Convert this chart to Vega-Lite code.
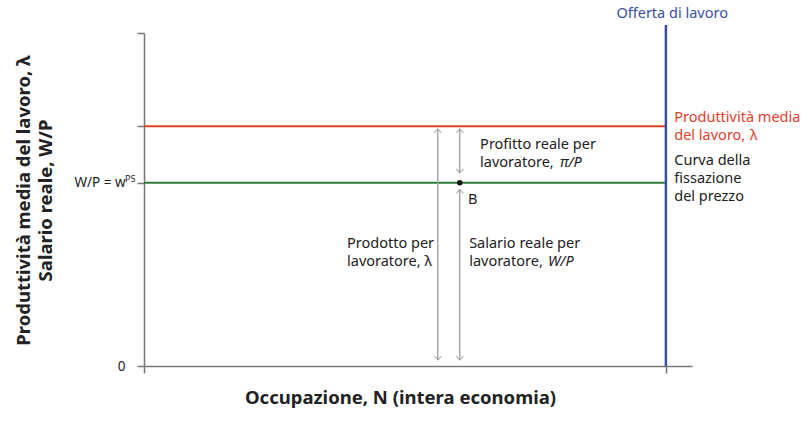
{
  "$schema": "https://vega.github.io/schema/vega-lite/v6.json",
  "width": 548,
  "height": 333,
  "autosize": "none",
  "padding": {"left": 144, "top": 33, "right": 118, "bottom": 55},
  "background": "white",
  "config": {
    "view": {"stroke": null},
    "font": "Noto Sans",
    "axis": {"grid": false, "domainColor": "#777", "tickColor": "#777", "domainWidth": 1.5, "tickWidth": 1.5, "tickSize": 7}
  },
  "datasets": {
    "hlines": [
      {"name": "lambda", "x": 0, "x2": 100, "y": 72},
      {"name": "ps", "x": 0, "x2": 100, "y": 55}
    ],
    "supply": [{"x": 100, "y": 0, "y2": 102.4}],
    "shafts": [
      {"x": 56.3, "y": 1.8, "y2": 71.2},
      {"x": 60.5, "y": 58, "y2": 71.2},
      {"x": 60.5, "y": 1.8, "y2": 53}
    ],
    "heads": [
      {"x": 56.3, "y": 71.2, "dir": "up"},
      {"x": 60.5, "y": 71.2, "dir": "up"},
      {"x": 60.5, "y": 53, "dir": "up"},
      {"x": 56.3, "y": 1.8, "dir": "down"},
      {"x": 60.5, "y": 58, "dir": "down"},
      {"x": 60.5, "y": 1.8, "dir": "down"}
    ],
    "pointB": [{"x": 60.5, "y": 55, "label": "B"}],
    "blackText": [
      {"x": 64.4, "y": 66.4, "text": "Profitto reale per"},
      {"x": 64.4, "y": 61.0, "text": "lavoratore,"},
      {"x": 38.9, "y": 36.6, "text": "Prodotto per"},
      {"x": 38.9, "y": 31.2, "text": "lavoratore, λ"},
      {"x": 62.3, "y": 36.6, "text": "Salario reale per"},
      {"x": 62.3, "y": 31.2, "text": "lavoratore,"},
      {"x": 62.1, "y": 49.8, "text": "B"},
      {"x": 101.6, "y": 61.6, "text": "Curva della"},
      {"x": 101.6, "y": 56.2, "text": "fissazione"},
      {"x": 101.6, "y": 50.8, "text": "del prezzo"}
    ],
    "italicText": [
      {"x": 79.7, "y": 61.0, "text": "π/P"},
      {"x": 77.4, "y": 31.2, "text": "W/P"}
    ],
    "redText": [
      {"x": 101.6, "y": 74.5, "text": "Produttività media", "style": "normal"},
      {"x": 101.6, "y": 69.1, "text": "del lavoro,", "style": "normal"},
      {"x": 116.1, "y": 69.1, "text": "λ", "style": "italic"}
    ],
    "blueText": [{"x": 101.2, "y": 105.7, "text": "Offerta di lavoro"}],
    "sup": [{"x": 0, "y": 55, "text": "PS"}]
  },
  "layer": [
    {
      "data": {"name": "hlines"},
      "mark": {"type": "rule", "strokeWidth": 2},
      "encoding": {
        "x": {"field": "x", "type": "quantitative", "scale": {"domain": [0, 105], "nice": false},
          "axis": {"values": [0, 100], "labels": false, "title": "Occupazione, N (intera economia)",
            "titleFont": "Noto Sans", "titleFontSize": 18.5, "titleFontWeight": "bold", "titleColor": "#222",
            "titleX": 256, "titleY": 31, "titleBaseline": "middle", "titleAnchor": "middle"}},
        "x2": {"field": "x2"},
        "y": {"field": "y", "type": "quantitative", "scale": {"domain": [0, 100], "nice": false},
          "axis": {"values": [0, 55, 72, 100], "labelExpr": "datum.value == 0 ? '0' : datum.value == 55 ? 'W/P = w' : ''",
            "labelFontSize": 13.5, "labelColor": "#222", "labelPadding": 12, "labelFont": "Noto Sans",
            "title": ["Produttività media del lavoro, λ", "Salario reale, W/P"],
            "titleFont": "Noto Sans", "titleFontSize": 18.5, "titleFontWeight": "bold", "titleColor": "#222",
            "titleX": -121, "titleY": 167, "titleAngle": -90, "titleAlign": "center", "titleBaseline": "middle", "titleLineHeight": 22}},
        "color": {"field": "name", "type": "nominal", "scale": {"domain": ["lambda", "ps"], "range": ["#e2402b", "#2b7a3b"]}, "legend": null}
      }
    },
    {
      "data": {"name": "supply"},
      "mark": {"type": "rule", "strokeWidth": 2.5, "color": "#3a4fa0"},
      "encoding": {
        "x": {"field": "x", "type": "quantitative"},
        "y": {"field": "y", "type": "quantitative"},
        "y2": {"field": "y2"}
      }
    },
    {
      "data": {"name": "shafts"},
      "mark": {"type": "rule", "strokeWidth": 1.3, "color": "#9a9a9a"},
      "encoding": {
        "x": {"field": "x", "type": "quantitative"},
        "y": {"field": "y", "type": "quantitative"},
        "y2": {"field": "y2"}
      }
    },
    {
      "data": {"name": "heads"},
      "mark": {"type": "point", "filled": false, "strokeWidth": 1.3, "color": "#9a9a9a", "size": 49},
      "encoding": {
        "x": {"field": "x", "type": "quantitative"},
        "y": {"field": "y", "type": "quantitative"},
        "shape": {"field": "dir", "type": "nominal", "scale": {"domain": ["up", "down"], "range": ["M-1,1.1L0,0L1,1.1", "M-1,-1.1L0,0L1,-1.1"]}, "legend": null}
      }
    },
    {
      "data": {"name": "pointB"},
      "mark": {"type": "point", "filled": true, "color": "#111", "size": 30, "opacity": 1},
      "encoding": {
        "x": {"field": "x", "type": "quantitative"},
        "y": {"field": "y", "type": "quantitative"}
      }
    },
    {
      "data": {"name": "blackText"},
      "mark": {"type": "text", "align": "left", "baseline": "middle", "fontSize": 14.5, "color": "#222"},
      "encoding": {
        "x": {"field": "x", "type": "quantitative"},
        "y": {"field": "y", "type": "quantitative"},
        "text": {"field": "text"}
      }
    },
    {
      "data": {"name": "italicText"},
      "mark": {"type": "text", "align": "left", "baseline": "middle", "fontSize": 14.5, "fontStyle": "italic", "color": "#222"},
      "encoding": {
        "x": {"field": "x", "type": "quantitative"},
        "y": {"field": "y", "type": "quantitative"},
        "text": {"field": "text"}
      }
    },
    {
      "data": {"name": "redText"},
      "mark": {"type": "text", "align": "left", "baseline": "middle", "fontSize": 14.5, "color": "#e2402b"},
      "encoding": {
        "x": {"field": "x", "type": "quantitative"},
        "y": {"field": "y", "type": "quantitative"},
        "text": {"field": "text"},
        "fontStyle": {"field": "style", "type": "nominal", "scale": null}
      }
    },
    {
      "data": {"name": "blueText"},
      "mark": {"type": "text", "align": "center", "baseline": "middle", "fontSize": 14.5, "color": "#3a4fa0"},
      "encoding": {
        "x": {"field": "x", "type": "quantitative"},
        "y": {"field": "y", "type": "quantitative"},
        "text": {"field": "text"}
      }
    },
    {
      "data": {"name": "sup"},
      "mark": {"type": "text", "align": "left", "baseline": "middle", "fontSize": 9, "color": "#222", "dx": -19, "dy": -4},
      "encoding": {
        "x": {"field": "x", "type": "quantitative"},
        "y": {"field": "y", "type": "quantitative"},
        "text": {"field": "text"}
      }
    }
  ]
}
